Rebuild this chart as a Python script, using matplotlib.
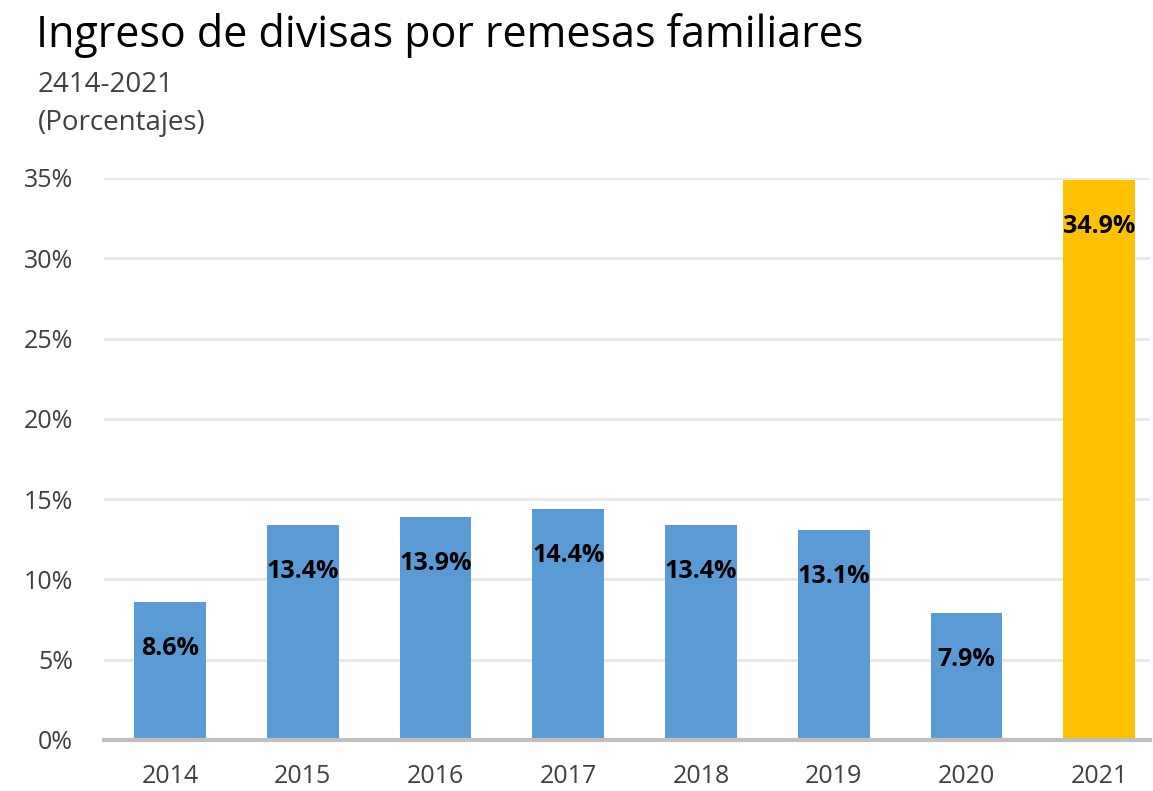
import matplotlib.pyplot as plt
from matplotlib.ticker import FuncFormatter

years = ["2014", "2015", "2016", "2017", "2018", "2019", "2020", "2021"]
values = [8.6, 13.4, 13.9, 14.4, 13.4, 13.1, 7.9, 34.9]
bar_colors = ["#5B9BD5"] * 7 + ["#FFC000"]

plt.rcParams['font.family'] = ['Open Sans', 'DejaVu Sans']

fig = plt.figure(figsize=(11.53, 7.91), dpi=100)
ax = fig.add_axes([0.09, 0.0645, 0.907, 0.7105])

x = list(range(len(years)))
ax.bar(x, values, width=0.54, color=bar_colors, zorder=3)

# labels sit inside the end of each bar
for xi, v in zip(x, values):
    ax.text(xi, v - 2.9, f"{v:.1f}%", ha="center", va="center",
            fontsize=18, fontweight="bold", color="black", zorder=4)

ax.set_ylim(0, 35)
ax.set_xlim(-0.5, 7.38)
ax.set_yticks(range(0, 36, 5))
ax.yaxis.set_major_formatter(FuncFormatter(lambda v, p: f"{int(v)}%"))
ax.set_xticks(x)
ax.set_xticklabels(years)
ax.tick_params(axis="both", length=0, labelsize=18, colors="#404040")
ax.tick_params(axis="x", pad=17)
ax.tick_params(axis="y", pad=22)

ax.grid(axis="y", color="#E8E8E8", linewidth=2, zorder=0)
for s in ["top", "right", "left"]:
    ax.spines[s].set_visible(False)
ax.spines["bottom"].set_color("#BFBFBF")
ax.spines["bottom"].set_linewidth(3)
ax.spines["bottom"].set_zorder(5)

fig.text(0.031, 0.9406, "Ingreso de divisas por remesas familiares", fontsize=31,
         color="black", va="baseline")
fig.text(0.033, 0.8837, "2414-2021", fontsize=20, color="#404040", va="baseline")
fig.text(0.033, 0.8357, "(Porcentajes)", fontsize=20, color="#404040", va="baseline")

fig.savefig("out.png", dpi=100)
